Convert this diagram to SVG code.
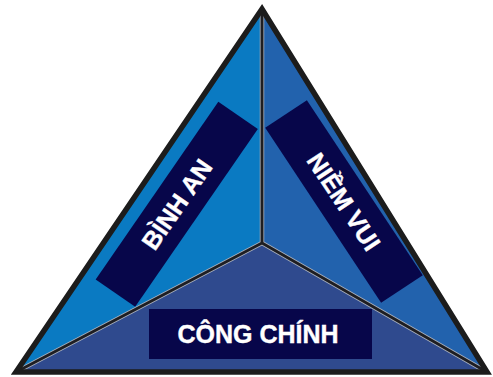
<svg xmlns="http://www.w3.org/2000/svg" width="493" height="377" viewBox="0 0 493 377">
<style>
.lbl{font-family:"Liberation Sans",Arial,sans-serif;font-weight:bold;font-size:25px;fill:#ffffff;stroke:#ffffff;stroke-width:0.4;text-anchor:middle}
.box{fill:#07064a}
.edge{stroke:#a9b0bd;stroke-width:4.5;fill:none;stroke-linecap:round}
.core{stroke:#1e1e22;stroke-width:2.8;fill:none;stroke-linecap:round}
</style>
<rect width="493" height="377" fill="#ffffff"/>
<g id="triangle-left"><polygon points="262,9 262,243 16,372" fill="#0a7ac2"/></g>
<g id="triangle-right"><polygon points="262,9 487,372 262,243" fill="#2262ad"/></g>
<g id="triangle-bottom"><polygon points="16,372 262,243 487,372" fill="#2f4a8e"/></g>
<g id="node-binh-an" transform="translate(176.75,204.25) rotate(-55.4)">
<rect class="box" x="-108" y="-24" width="216" height="48"/>
<text class="lbl" x="0" y="9">BÌNH AN</text>
</g>
<g id="node-niem-vui" transform="translate(344,201.5) rotate(56.5)">
<rect class="box" x="-105" y="-25" width="210" height="50"/>
<text class="lbl" x="0" y="9" font-size="26">NIỀM VUI</text>
</g>
<g id="node-cong-chinh">
<rect class="box" x="149" y="309" width="223" height="50"/>
<text class="lbl" x="258" y="343">CÔNG CHÍNH</text>
</g>
<g id="connectors">
<path class="edge" d="M262,11 L262,243 M262,243 L18,371 M262,243 L485,371"/>
<path class="core" d="M262,11 L262,243 M262,243 L18,371 M262,243 L485,371"/>
<polygon points="262,9 16,372 487,372" fill="none" stroke="#1c1c1c" stroke-width="5.5" stroke-linejoin="miter" stroke-miterlimit="10"/>
</g>
</svg>
